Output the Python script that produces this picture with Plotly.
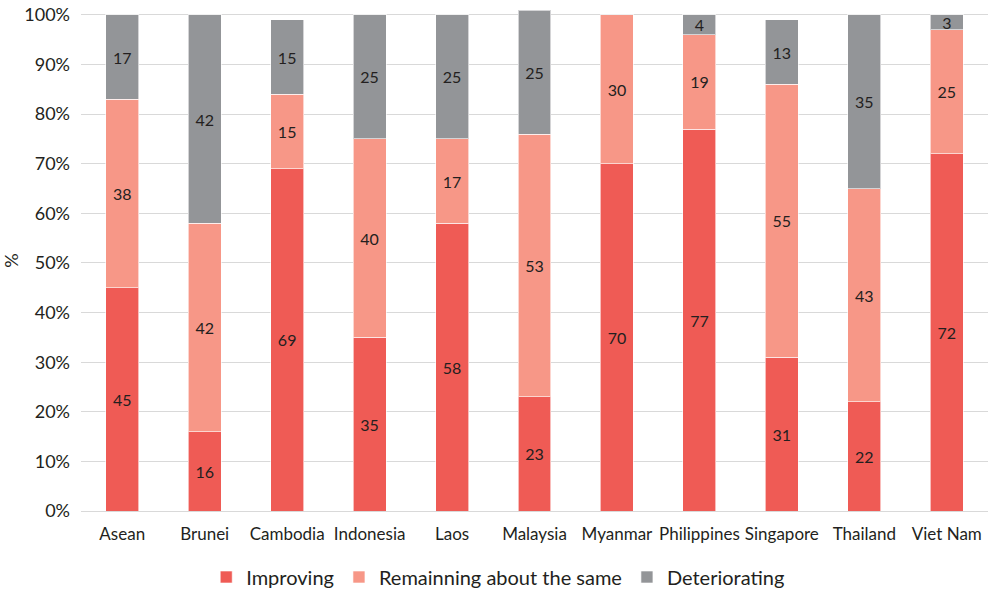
import plotly.graph_objects as go

categories = ["Asean", "Brunei", "Cambodia", "Indonesia", "Laos", "Malaysia",
              "Myanmar", "Philippines", "Singapore", "Thailand", "Viet Nam"]
improving = [45, 16, 69, 35, 58, 23, 70, 77, 31, 22, 72]
remaining = [38, 42, 15, 40, 17, 53, 30, 19, 55, 43, 25]
deteriorating = [17, 42, 15, 25, 25, 25, None, 4, 13, 35, 3]
tick_vals = [0, 10, 20, 30, 40, 50, 60, 70, 80, 90, 100]
tick_text = [f"{v}%" for v in tick_vals]

series = [
    ("Improving", improving, "#EF5B55"),
    ("Remainning about the same", remaining, "#F79787"),
    ("Deteriorating", deteriorating, "#939598"),
]

FONT = "Lato"
fig = go.Figure()
for name, vals, color in series:
    fig.add_trace(go.Bar(
        name=name, x=categories, y=vals,
        marker=dict(color=color, line=dict(color="rgba(255,255,255,0.6)", width=1)),
        text=[str(v) if v else "" for v in vals],
        textposition="inside", insidetextanchor="middle",
        constraintext="none",
        textfont=dict(family=FONT, size=16, color="#231F20"),
        textangle=0,
        width=0.4,
        hoverinfo="skip",
    ))

fig.update_layout(
    barmode="stack",
    width=992, height=589,
    margin=dict(l=81, r=4, t=10, b=78, autoexpand=False),
    plot_bgcolor="white", paper_bgcolor="white",
    font=dict(family=FONT, size=16, color="#231F20"),
    showlegend=True,
    legend=dict(orientation="h", x=0.46, xanchor="center", y=12 / 589, yref="container",
                yanchor="middle",
                font=dict(family=FONT, size=20, color="#231F20"),
                itemwidth=30, traceorder="normal"),
)
fig.update_xaxes(showline=True, linecolor="#D9D9D9", linewidth=1, automargin=False,
                 tickfont=dict(family=FONT, size=17, color="#231F20"), ticks="",
                 tickangle=0, ticklabelstandoff=8)
fig.update_yaxes(range=[0, 101], tickvals=tick_vals, ticktext=tick_text, automargin=False,
                 showgrid=True, gridcolor="#D9D9D9", gridwidth=1,
                 tickfont=dict(family=FONT, size=18, color="#231F20"),
                 ticklabelstandoff=10,
                 title=dict(text="%", font=dict(family=FONT, size=18), standoff=6),
                 zeroline=False)

fig.write_html("out.html", config={"displayModeBar": False},
               post_script="document.body.style.margin='0';document.body.style.overflow='hidden';")
